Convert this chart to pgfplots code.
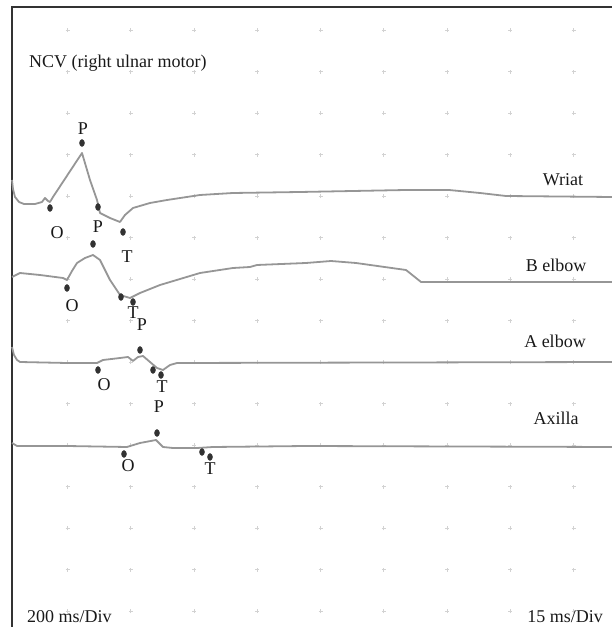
\documentclass[border=0pt]{standalone}
\usepackage{pgfplots}
\pgfplotsset{compat=1.18}
\usepackage{fontspec}
\setmainfont{Liberation Serif}
\definecolor{trace}{RGB}{150,150,150}
\definecolor{mk}{RGB}{50,50,50}
\definecolor{dot}{RGB}{210,210,210}
\tikzset{lab/.style={font=\fontsize{18}{20}\selectfont, inner sep=0pt, text=black!90}}
\begin{document}
\begin{tikzpicture}
\begin{axis}[
  at={(12pt,0pt)}, anchor=south west,
  scale only axis, width=600pt, height=620pt,
  xmin=12, xmax=612, ymin=0, ymax=620,
  axis line style={draw=none},
  xtick={67.5,130.75,...,580}, ytick={15.5,57,...,600},
  xticklabels={}, yticklabels={},
  major tick length=0pt,
  grid=major,
  x grid style={dot, line width=1pt, dash pattern=on 4pt off 37.5pt, dash phase=28pt},
  y grid style={dot, line width=1pt, dash pattern=on 4pt off 59.25pt, dash phase=9.75pt},
  clip=false,
  every axis plot/.append style={line join=round},
]
\draw[black!80, line width=1.2pt] (rel axis cs:0,0) -- (rel axis cs:0,1) -- (rel axis cs:1,1);

% Wriat
\addplot[trace, line width=1.8pt] coordinates {
 (12,447) (13,438) (15,430) (19,425) (24,423) (35,423) (42,425) (45,429) (48,426) (50,425) (53,430)
 (82,474) (90,447) (97,427) (100,414) (110,409) (120,405) (125,412) (133,419)
 (150,424) (167,427) (200,432) (233,434) (300,435) (406,437) (449,437) (480,434)
 (506,431) (612,430)};
\addplot[only marks, mark=*, mark size=2.5pt, mark options={mk, yscale=1.4}] coordinates {
 (50,419) (82,484) (98,420) (123,395)};

% B elbow
\addplot[trace, line width=1.8pt] coordinates {
 (12,350) (20,354) (40,352) (63,349) (67,347) (72,356) (77,364) (85,369) (93,372) (100,367) (110,347)
 (120,332) (130,329) (140,334) (160,342) (200,354) (233,359) (250,360) (257,362)
 (306,364) (331,366) (356,364) (406,357) (421,345) (612,345)};
\addplot[only marks, mark=*, mark size=2.5pt, mark options={mk, yscale=1.4}] coordinates {
 (67,339) (93,383) (121,330) (133,325)};

% A elbow
\addplot[trace, line width=1.8pt] coordinates {
 (12,280) (14,272) (17,267) (20,265) (67,264) (97,264) (103,267) (120,269) (128,270) (133,266)
 (138,270) (143,271) (150,265) (157,259) (163,257) (170,262) (177,264) (612,265)};
\addplot[only marks, mark=*, mark size=2.5pt, mark options={mk, yscale=1.4}] coordinates {
 (98,257) (140,277) (153,257) (161,252)};

% Axilla
\addplot[trace, line width=1.8pt] coordinates {
 (12,184) (17,181) (67,181) (127,180) (140,184) (156,187) (163,180) (173,179)
 (197,179) (213,180) (306,181) (612,180)};
\addplot[only marks, mark=*, mark size=2.5pt, mark options={mk, yscale=1.4}] coordinates {
 (124,173) (157,194) (202,175) (210,170)};

% point labels
\node[lab] at (axis cs:83,498) {P};
\node[lab] at (axis cs:57,394) {O};
\node[lab] at (axis cs:98,400) {P};
\node[lab] at (axis cs:127,370) {T};
\node[lab] at (axis cs:72,321) {O};
\node[lab] at (axis cs:133,314) {T};
\node[lab] at (axis cs:142,302) {P};
\node[lab] at (axis cs:104,242) {O};
\node[lab] at (axis cs:162,240) {T};
\node[lab] at (axis cs:159,220) {P};
\node[lab] at (axis cs:128,161) {O};
\node[lab] at (axis cs:210,158) {T};

% series labels
\node[lab] at (axis cs:563,447) {Wriat};
\node[lab] at (axis cs:556,362) {B elbow};
\node[lab] at (axis cs:555,286) {A elbow};
\node[lab] at (axis cs:556,209) {Axilla};

\node[lab, anchor=base west] at (axis cs:29,559) {NCV (right ulnar motor)};
\node[lab, anchor=base west] at (axis cs:27,4) {200 ms/Div};
\node[lab, anchor=base east] at (axis cs:603,4) {15 ms/Div};
\end{axis}
\pgfresetboundingbox
\path[use as bounding box] (0,0) rectangle (612pt,627pt);
\end{tikzpicture}
\end{document}
